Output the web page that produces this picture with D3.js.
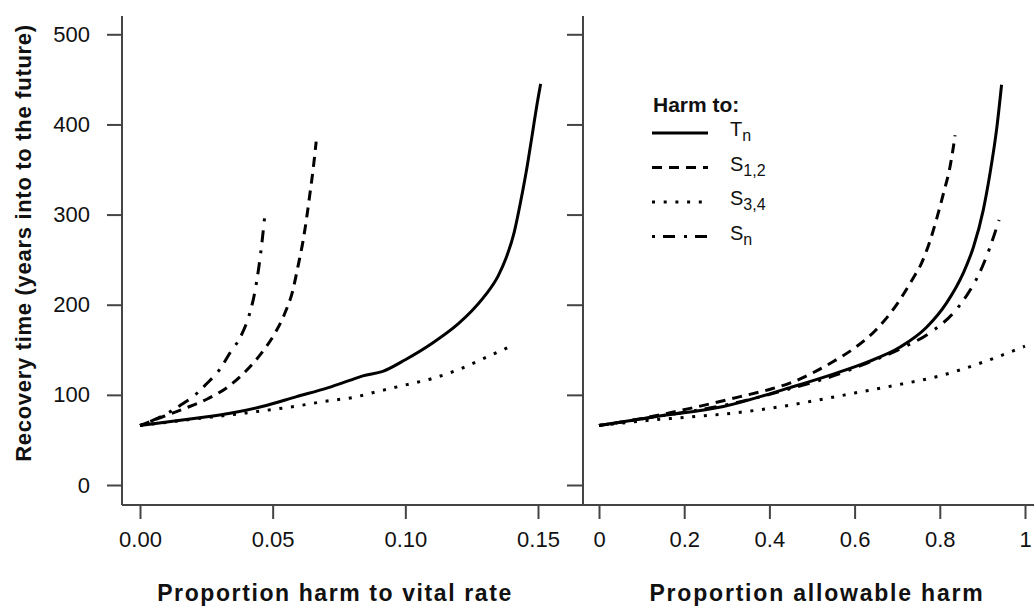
<!DOCTYPE html>
<html>
<head>
<meta charset="utf-8">
<script src="https://cdn.jsdelivr.net/npm/d3@7"></script>
<style>
  body { margin: 0; background: #fff; }
  svg { display: block; font-family: "Liberation Sans", Arial, sans-serif; }
</style>
</head>
<body>
<svg id="chart" width="1034" height="613"></svg>
<script>
// y axis ticks (shared) and x ticks for each panel
const yTicks = [0, 100, 200, 300, 400, 500];
const leftTicks = [0, 0.05, 0.10, 0.15];
const leftTickLabels = ["0.00", "0.05", "0.10", "0.15"];
const rightTicks = [0, 0.2, 0.4, 0.6, 0.8, 1];
const rightTickLabels = ["0", "0.2", "0.4", "0.6", "0.8", "1"];

// left panel: proportion harm to vital rate -> recovery time
const tnLeft = [[0,66],[0.021,74],[0.034,79.5],[0.046,87],[0.059,98],[0.071,108],[0.079,116],
  [0.084,121],[0.0915,126],[0.10,139],[0.11,157],[0.12,179],[0.125,193],[0.13,210],[0.135,232],
  [0.138,252],[0.141,280],[0.1435,315],[0.146,355],[0.148,392],[0.1495,420],[0.151,445]];
const s12Left = [[0,66],[0.0088,76],[0.0169,85],[0.0257,96],[0.0332,109],[0.0401,127],[0.0457,146],
  [0.0508,168],[0.0545,190],[0.0576,216],[0.0595,242],[0.0614,270],[0.0627,294],[0.0639,320],
  [0.0652,349],[0.0664,381]];
const s34Left = [[0,66],[0.02,73],[0.04,80],[0.06,88],[0.07,93],[0.08,97],[0.09,104],[0.10,111],
  [0.11,118],[0.12,128],[0.13,141],[0.1397,154]];
const snLeft = [[0,66],[0.005,72],[0.010,79],[0.015,88],[0.020,98],[0.025,112],[0.030,128],
  [0.034,147],[0.038,165],[0.041,187],[0.043,210],[0.0447,240],[0.046,270],[0.047,298]];

// right panel: proportion allowable harm -> recovery time
const tnRight = [[0,66],[0.135,76],[0.292,87],[0.448,108],[0.55,123],[0.628,136],[0.707,153],
  [0.769,175],[0.816,202],[0.855,235],[0.879,264],[0.902,305],[0.918,346],[0.934,397],[0.945,444]];
const s12Right = [[0,66],[0.08,72],[0.214,85],[0.331,98],[0.4,106],[0.448,113],[0.5,124],
  [0.55,137],[0.6,152],[0.65,172],[0.7,201],[0.738,230],[0.755,244],[0.775,268],[0.793,296],
  [0.81,326],[0.824,353],[0.836,388]];
const s34Right = [[0,66],[0.1,71],[0.2,75],[0.3,79],[0.4,85],[0.5,93],[0.6,102],[0.7,111],
  [0.8,121],[0.9,136],[1.0,154]];
const snRight = [[0,66],[0.15,77],[0.3,89],[0.45,107],[0.55,121],[0.628,135],[0.707,151],
  [0.777,169],[0.832,191],[0.871,216],[0.894,236],[0.918,264],[0.939,294]];

const legendItems = [
  { main: "T", sub: "n", dash: null },
  { main: "S", sub: "1,2", dash: "10,7" },
  { main: "S", sub: "3,4", dash: "3,8.7" },
  { main: "S", sub: "n", dash: "3,8,12,9" }
];

const svg = d3.select("#chart");
const axisColor = "#444";

const y = d3.scaleLinear().domain([0, 500]).range([485, 34.3]);
const xL = d3.scaleLinear().domain([0, 0.15]).range([140, 538]);
const xR = d3.scaleLinear().domain([0, 1]).range([599, 1025]);

// box lines (L shapes)
svg.append("line").attr("x1", 122).attr("x2", 122).attr("y1", 16).attr("y2", 505)
  .attr("stroke", axisColor).attr("stroke-width", 2);
svg.append("line").attr("x1", 583).attr("x2", 583).attr("y1", 16).attr("y2", 505)
  .attr("stroke", axisColor).attr("stroke-width", 2);
svg.append("line").attr("x1", 122).attr("x2", 1034).attr("y1", 505).attr("y2", 505)
  .attr("stroke", axisColor).attr("stroke-width", 2);

function styleAxis(g) {
  g.select(".domain").remove();
  g.selectAll(".tick line").attr("stroke", axisColor).attr("stroke-width", 2);
  g.selectAll(".tick text").attr("fill", "#111").style("font-size", "22px")
    .style("font-family", "'Liberation Sans', Arial, sans-serif");
}

// left y axis with labels
svg.append("g").attr("transform", "translate(122,0)")
  .call(d3.axisLeft(y).tickValues(yTicks).tickSize(15).tickPadding(17).tickFormat(d3.format("d")))
  .call(styleAxis);

// right panel y ticks, no labels
svg.append("g").attr("transform", "translate(583,0)")
  .call(d3.axisLeft(y).tickValues(yTicks).tickSize(16).tickFormat(""))
  .call(styleAxis);

// x axes
svg.append("g").attr("transform", "translate(0,505)")
  .call(d3.axisBottom(xL).tickValues(leftTicks).tickSize(14).tickPadding(12)
    .tickFormat((d, i) => leftTickLabels[i]))
  .call(styleAxis);
svg.append("g").attr("transform", "translate(0,505)")
  .call(d3.axisBottom(xR).tickValues(rightTicks).tickSize(14).tickPadding(12)
    .tickFormat((d, i) => rightTickLabels[i]))
  .call(styleAxis);

// axis titles
svg.append("text").attr("x", 335).attr("y", 601).attr("text-anchor", "middle")
  .style("font-size", "23px").style("font-weight", "bold").style("letter-spacing", "1.6px")
  .attr("fill", "#111")
  .text("Proportion harm to vital rate");
svg.append("text").attr("x", 817).attr("y", 601).attr("text-anchor", "middle")
  .style("font-size", "23px").style("font-weight", "bold").style("letter-spacing", "1.8px")
  .attr("fill", "#111")
  .text("Proportion allowable harm");
svg.append("text").attr("transform", "translate(31,243) rotate(-90)").attr("text-anchor", "middle")
  .style("font-size", "22px").style("font-weight", "bold").style("letter-spacing", "0.7px")
  .attr("fill", "#111")
  .text("Recovery time (years into to the future)");

// curves
function drawSeries(data, xs, dash) {
  let line = d3.line().x(d => xs(d[0])).y(d => y(d[1])).curve(d3.curveMonotoneX);
  svg.append("path")
    .datum(data)
    .attr("fill", "none")
    .attr("stroke", "#000")
    .attr("stroke-width", 3)
    .attr("stroke-dasharray", dash)
    .attr("d", line);
}

drawSeries(tnLeft, xL, null);
drawSeries(s12Left, xL, legendItems[1].dash);
drawSeries(s34Left, xL, legendItems[2].dash);
drawSeries(snLeft, xL, legendItems[3].dash);

drawSeries(tnRight, xR, null);
drawSeries(s12Right, xR, legendItems[1].dash);
drawSeries(s34Right, xR, legendItems[2].dash);
drawSeries(snRight, xR, legendItems[3].dash);

// legend
let legend = svg.append("g");
legend.append("text").attr("x", 653).attr("y", 112)
  .style("font-size", "21px").style("font-weight", "bold").attr("fill", "#111")
  .text("Harm to:");

legendItems.forEach((item, i) => {
  let ly = 133 + i * 34.5;
  legend.append("line").attr("x1", 652).attr("x2", 708).attr("y1", ly).attr("y2", ly)
    .attr("stroke", "#000").attr("stroke-width", 3)
    .attr("stroke-dasharray", item.dash);
  let t = legend.append("text").attr("x", 730).attr("y", ly + 3)
    .style("font-size", "20px").attr("fill", "#111");
  t.append("tspan").text(item.main);
  t.append("tspan").attr("dy", 5).style("font-size", "16px").text(item.sub);
});
</script>
</body>
</html>
